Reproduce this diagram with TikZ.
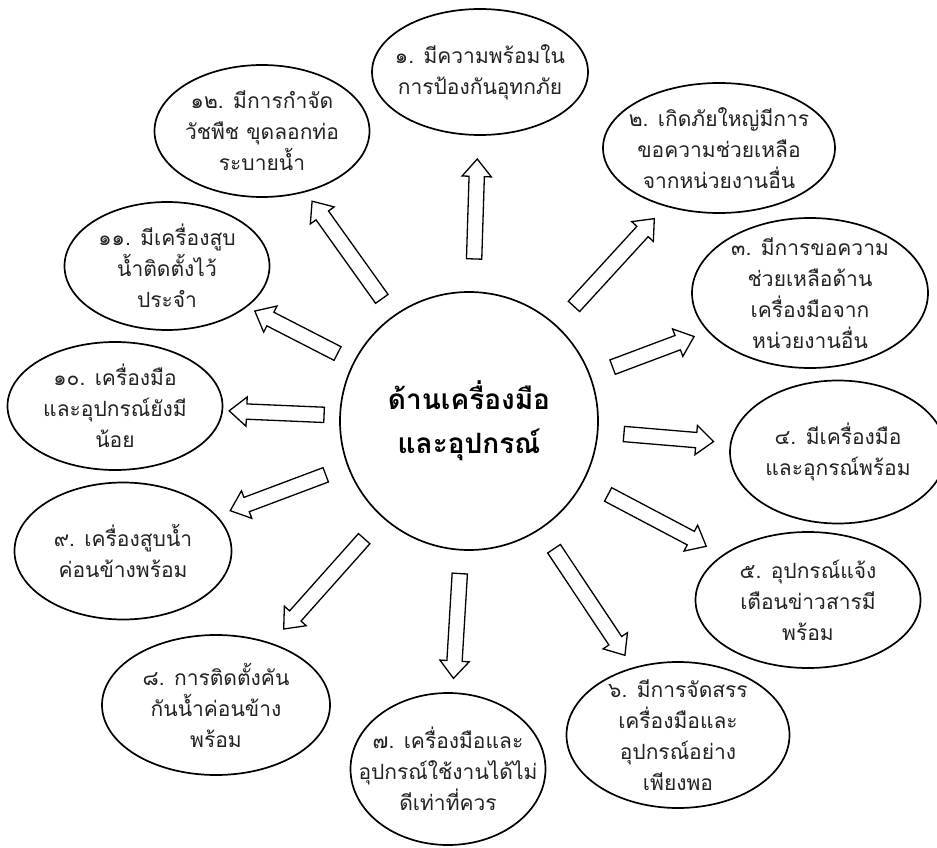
\documentclass[tikz,border=0pt]{standalone}
\usepackage{fontspec}
\newfontfamily\thaifont[Script=Thai]{Loma}
\usetikzlibrary{shapes.geometric,shapes.arrows}
\definecolor{tink}{HTML}{222222}
\tikzset{
  hub/.style={circle,draw=black,line width=1.7pt,fill=white,minimum size=258pt,
              inner sep=0pt,align=center,text=black,
              font=\thaifont\bfseries\fontsize{28}{44}\selectfont},
  topic/.style 2 args={ellipse,draw=black,line width=1.7pt,fill=white,
                       minimum width=#1pt,minimum height=#2pt,inner sep=0pt},
  note/.style={align=center,text=tink,font=\thaifont\fontsize{21}{31}\selectfont},
  blk/.style={single arrow,draw=black,line width=1.3pt,fill=white,
              minimum height=#1pt,inner sep=0pt,inner ysep=7pt,
              single arrow head extend=7pt,single arrow tip angle=80,
              sloped,allow upside down,midway},
}

\begin{document}
\begin{tikzpicture}[x=1pt,y=-1pt]
  \fill[white] (0,0) rectangle (937,848);
  \useasboundingbox (0,0) rectangle (937,848);
  % hub in the middle
  \node[hub] (hub) at (469,421) {ด้านเครื่องมือ\\และอุปกรณ์};
  % twelve topics round it
  \node[topic={216}{126},label={[note]center:{๑. มีความพร้อมใน\\การป้องกันอุทกภัย}}] (t1) at (480,72) {};
  \node[topic={232}{130},label={[note]center:{๒. เกิดภัยใหญ่มีการ\\ขอความช่วยเหลือ\\จากหน่วยงานอื่น}}] (t2) at (719,148) {};
  \node[topic={236}{150},label={[note]center:{๓. มีการขอความ\\ช่วยเหลือด้าน\\เครื่องมือจาก\\หน่วยงานอื่น}}] (t3) at (810,293) {};
  \node[topic={216}{143},label={[note]center:{๔. มีเครื่องมือ\\และอุกรณ์พร้อม}}] (t4) at (838,452) {};
  \node[topic={225}{136},label={[note]center:{๕. อุปกรณ์แจ้ง\\เตือนข่าวสารมี\\พร้อม}}] (t5) at (808,600) {};
  \node[topic={223}{146},label={[note]center:{๖. มีการจัดสรร\\เครื่องมือและ\\อุปกรณ์อย่าง\\เพียงพอ}}] (t6) at (678,735) {};
  \node[topic={195}{152},label={[note]center:{๗. เครื่องมือและ\\อุปกรณ์ใช้งานได้ไม่\\ดีเท่าที่ควร}}] (t7) at (448,769) {};
  \node[topic={228}{140},label={[note]center:{๘. การติดตั้งคัน\\กันน้ำค่อนข้าง\\พร้อม}}] (t8) at (216,705) {};
  \node[topic={217}{137},label={[note]center:{๙. เครื่องสูบน้ำ\\ค่อนข้างพร้อม}}] (t9) at (123,551) {};
  \node[topic={215}{128},label={[note]center:{๑๐. เครื่องมือ\\และอุปกรณ์ยังมี\\น้อย}}] (t10) at (115,406) {};
  \node[topic={205}{128},label={[note]center:{๑๑. มีเครื่องสูบ\\น้ำติดตั้งไว้\\ประจำ}}] (t11) at (167,266) {};
  \node[topic={215}{132},label={[note]center:{๑๒. มีการกำจัด\\วัชพืช ขุดลอกท่อ\\ระบายน้ำ}}] (t12) at (262,131) {};
  % block arrows out of the hub
  \path (hub) -- (t1) node[blk=100] {};
  \path (hub) -- (t2) node[blk=119] {};
  \path (hub) -- (t3) node[blk=87] {};
  \path (hub) -- (t4) node[blk=90] {};
  \path (hub) -- (t5) node[blk=111] {};
  \path (hub) -- (t6) node[blk=128] {};
  \path (hub) -- (t7) node[blk=105] {};
  \path (hub) -- (t8) node[blk=121] {};
  \path (hub) -- (t9) node[blk=102] {};
  \path (hub) -- (t10) node[blk=95] {};
  \path (hub) -- (t11) node[blk=93] {};
  \path (hub) -- (t12) node[blk=120] {};
\end{tikzpicture}
\end{document}
